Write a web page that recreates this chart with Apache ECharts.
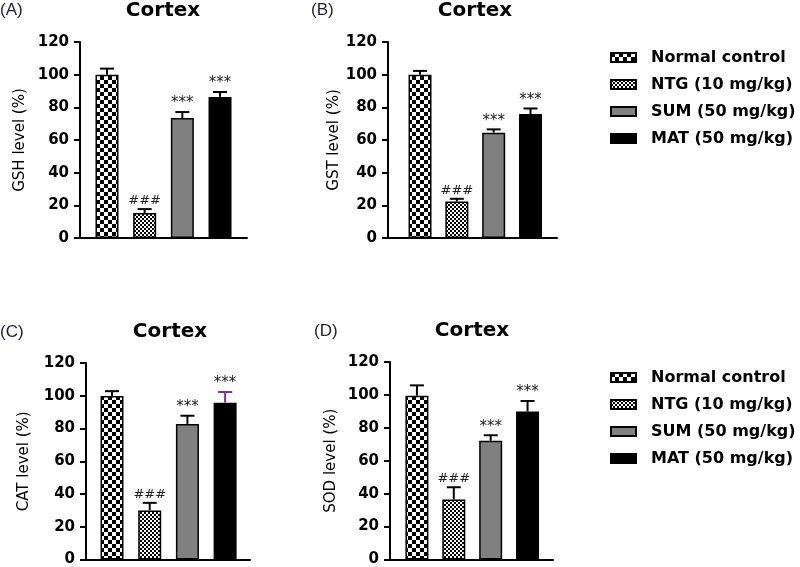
<!DOCTYPE html>
<html>
<head>
<meta charset="utf-8">
<script src="https://cdn.jsdelivr.net/npm/echarts@6/dist/echarts.min.js"></script>
<style>html,body{margin:0;padding:0;background:#fff}#c{width:800px;height:567px}</style>
</head>
<body>
<div id="c"></div>
<script>
// ---- data ----
const groups = ['Normal control', 'NTG (10 mg/kg)', 'SUM (50 mg/kg)', 'MAT (50 mg/kg)'];
const panelLabels = ['(A)', '(B)', '(C)', '(D)'];
const panelTitles = ['Cortex', 'Cortex', 'Cortex', 'Cortex'];
const yNames = ['GSH level (%)', 'GST level (%)', 'CAT level (%)', 'SOD level (%)'];
const yTickLabels = ['0', '20', '40', '60', '80', '100', '120'];
const gshMean = [100, 15.3, 73.5, 86.4];
const gshErr  = [3.7, 2.4, 3.6, 3.0];
const gstMean = [100, 22.4, 64.5, 75.9];
const gstErr  = [2.3, 1.6, 2.0, 3.4];
const catMean = [99.8, 30.0, 82.8, 95.8];
const catErr  = [3.0, 4.6, 5.0, 6.5];
const sodMean = [99.5, 36.5, 72.2, 89.9];
const sodErr  = [6.3, 7.4, 3.3, 6.4];
const sigLabels = ['', '###', '***', '***'];

const means = [gshMean, gstMean, catMean, sodMean];
const errs = [gshErr, gstErr, catErr, sodErr];

// ---- layout / style ----
const grids = [
  {left: 80, top: 42, width: 167, height: 196},
  {left: 388, top: 42, width: 169, height: 196},
  {left: 86, top: 363, width: 164, height: 198},
  {left: 390, top: 362, width: 163, height: 199}
];
const xRanges = [[-0.716, 3.716], [-0.87, 3.72], [-0.69, 3.66], [-0.73, 3.69]];
const nameGaps = [52, 45, 54, 51];
const titlePos = [[163, 1], [475, 1], [170, 322], [472, 321]];
const labelPos = [[0, 2], [311, 2], [0, 324], [314, 323]];
const errColor = (p, i) => (p === 2 && i === 3) ? '#7b2fa8' : '#000';

function makePattern(cell) {
  const cv = document.createElement('canvas');
  cv.width = cell * 2; cv.height = cell * 2;
  const ctx = cv.getContext('2d');
  ctx.fillStyle = '#fff'; ctx.fillRect(0, 0, cv.width, cv.height);
  ctx.fillStyle = '#000';
  ctx.fillRect(0, 0, cell, cell);
  ctx.fillRect(cell, cell, cell, cell);
  return {image: cv, repeat: 'repeat'};
}
const fills = [makePattern(4), makePattern(2), '#808080', '#000000'];

const chart = echarts.init(document.getElementById('c'), null, {renderer: 'canvas', width: 800, height: 567});

const titles = [];
panelTitles.forEach((t, p) => {
  titles.push({text: t, left: titlePos[p][0], top: titlePos[p][1], textAlign: 'center', padding: 0,
    textStyle: {fontFamily: 'DejaVu Sans', fontWeight: 'bold', fontSize: 20, color: '#000'}});
  titles.push({text: panelLabels[p], left: labelPos[p][0], top: labelPos[p][1], padding: 0,
    textStyle: {fontFamily: 'Liberation Sans', fontWeight: 'normal', fontSize: 17, color: '#1e1e30'}});
});

const xAxes = grids.map((g, p) => ({
  type: 'value', gridIndex: p, min: xRanges[p][0], max: xRanges[p][1],
  axisLine: {show: true, onZero: false, lineStyle: {color: '#000', width: 2}},
  axisTick: {show: false}, axisLabel: {show: false}, splitLine: {show: false}
}));
const yAxes = grids.map((g, p) => ({
  type: 'value', gridIndex: p, min: 0, max: 120, interval: 20,
  name: yNames[p], nameLocation: 'middle', nameGap: nameGaps[p], nameRotate: 90,
  nameTextStyle: {fontFamily: 'DejaVu Sans', fontSize: 15, color: '#000'},
  axisLine: {show: true, onZero: false, lineStyle: {color: '#000', width: 2}},
  axisTick: {show: true, length: 6, lineStyle: {color: '#000', width: 2}},
  axisLabel: {fontFamily: 'DejaVu Sans', fontWeight: 'bold', fontSize: 15, color: '#000', margin: 11,
    formatter: v => yTickLabels[Math.round(v / 20)]},
  splitLine: {show: false}
}));

const series = [];
means.forEach((m, p) => {
  groups.forEach((name, i) => {
    series.push({
      type: 'bar', name: name, xAxisIndex: p, yAxisIndex: p,
      data: [[i, m[i]]], barWidth: 23, barGap: '-100%',
      itemStyle: {color: fills[i], borderColor: '#000', borderWidth: 1.5},
      emphasis: {disabled: true}, animation: false
    });
  });
  series.push({
    type: 'custom', xAxisIndex: p, yAxisIndex: p, animation: false, z: 5,
    data: m.map((v, i) => [i, v, errs[p][i]]),
    encode: {x: 0, y: 1},
    renderItem: (params, api) => {
      const x = api.value(0), v = api.value(1), e = api.value(2);
      const i = params.dataIndex;
      const p0 = api.coord([x, v]);
      const p1 = api.coord([x, v + e]);
      const col = errColor(p, i);
      const lbl = sigLabels[i];
      const children = [
        {type: 'line', shape: {x1: p0[0], y1: p0[1], x2: p1[0], y2: p1[1]}, style: {stroke: col, lineWidth: 2}},
        {type: 'line', shape: {x1: p1[0] - 7, y1: p1[1], x2: p1[0] + 7, y2: p1[1]}, style: {stroke: col, lineWidth: 2}}
      ];
      if (lbl) {
        children.push({type: 'text', x: p1[0], y: p1[1] - (lbl === '###' ? 2 : 1),
          style: {text: lbl, textAlign: 'center', textVerticalAlign: 'bottom',
            font: lbl === '###' ? 'normal 13px "DejaVu Sans"' : 'normal 15px "DejaVu Sans"',
            fill: '#222'}});
      }
      return {type: 'group', children: children};
    }
  });
});

const legendBase = {
  orient: 'vertical', left: 605, data: groups, icon: 'rect', itemWidth: 25, itemHeight: 9,
  itemGap: 10, selectedMode: false,
  textStyle: {fontFamily: 'DejaVu Sans', fontWeight: 'bold', fontSize: 16, color: '#000', lineHeight: 17, padding: [0, 0, 0, 10]}
};

chart.setOption({
  animation: false,
  title: titles,
  grid: grids.map(g => Object.assign({containLabel: false}, g)),
  xAxis: xAxes,
  yAxis: yAxes,
  legend: [Object.assign({top: 44}, legendBase), Object.assign({top: 364}, legendBase)],
  series: series
});
</script>
</body>
</html>
